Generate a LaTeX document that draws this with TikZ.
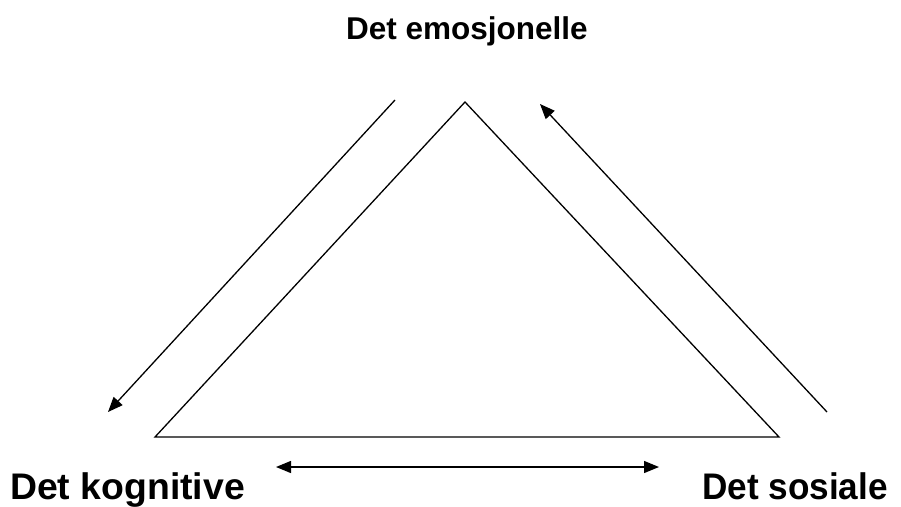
\documentclass[tikz,border=0pt]{standalone}
\usepackage{fontspec}
\setmainfont{Liberation Sans}
\usetikzlibrary{arrows.meta}
\begin{document}
\begin{tikzpicture}[x=1pt,y=-1pt,
  edge/.style={line width=1.3pt},
  arr/.style={line width=1.3pt,-{Triangle[length=15pt,width=12pt]}},
  darr/.style={line width=1.3pt,{Triangle[length=15pt,width=12pt]}-{Triangle[length=15pt,width=12pt]}},
  lbl/.style={font=\bfseries\fontsize{31.5}{36}\selectfont,inner sep=0pt},
  lblb/.style={font=\bfseries\fontsize{37}{40}\selectfont,inner sep=0pt}]
\useasboundingbox (0,0) rectangle (901,506);
\coordinate (A) at (465,102);
\coordinate (B) at (155,437);
\coordinate (C) at (779,437);
\draw[edge] (A) -- (B) -- (C) -- cycle;
\coordinate (l1) at (395,100);
\coordinate (l2) at (108,412);
\draw[arr] (l1) -- (l2);
\coordinate (r1) at (827,412);
\coordinate (r2) at (540,104);
\draw[arr] (r1) -- (r2);
\coordinate (b1) at (276,467);
\coordinate (b2) at (659,467);
\draw[darr] (b1) -- (b2);
\node[lbl,anchor=base] (top) at (467,39) {Det emosjonelle};
\node[lblb,anchor=base west,xscale=1.01] (kog) at (10,499) {Det kognitive};
\node[lblb,anchor=base east,xscale=0.95] (sos) at (888,499) {Det sosiale};
\end{tikzpicture}
\end{document}
